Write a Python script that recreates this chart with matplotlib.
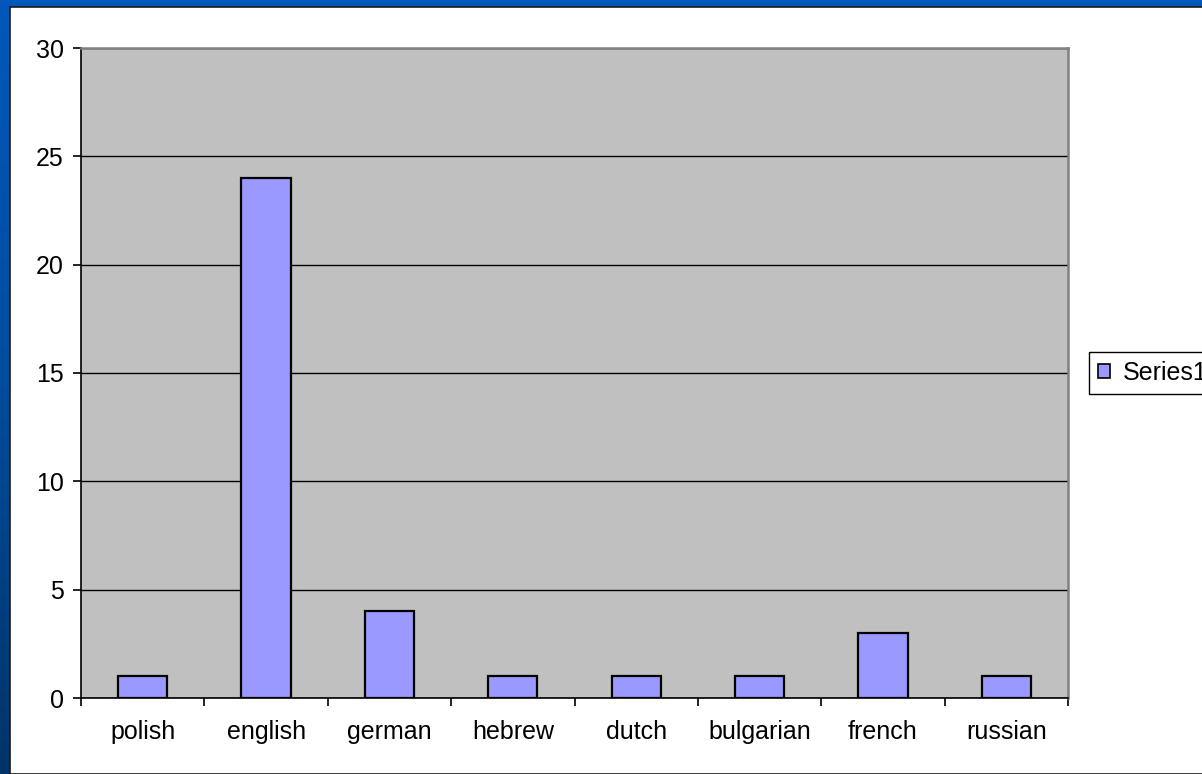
import matplotlib
matplotlib.use("Agg")
import matplotlib.pyplot as plt
import numpy as np
from matplotlib.patches import Rectangle
from matplotlib.colors import LinearSegmentedColormap

categories = ["polish", "english", "german", "hebrew", "dutch", "bulgarian", "french", "russian"]
values = [1, 24, 4, 1, 1, 1, 3, 1]
series_name = "Series1"
y_ticks = [0, 5, 10, 15, 20, 25, 30]

plt.rcParams['font.family'] = ['Liberation Sans', 'DejaVu Sans']

W, H = 1202, 774
fig = plt.figure(figsize=(W / 100, H / 100), dpi=100)

# slide background gradient
bg = fig.add_axes([0, 0, 1, 1], zorder=-10)
cmap = LinearSegmentedColormap.from_list("slide", ["#0058bb", "#004c9e", "#003468"])
grad = np.linspace(0, 1, 256).reshape(-1, 1)
bg.imshow(grad, aspect="auto", cmap=cmap, extent=[0, 1, 0, 1], origin="upper")
bg.set_axis_off()

# white chart area
chart_left, chart_top = 9.5, 6.5
fig.patches.append(Rectangle((chart_left / W, 0), 1.2, 1 - chart_top / H,
                             transform=fig.transFigure, facecolor="white",
                             edgecolor="#1a1a1a", linewidth=1.2, zorder=-5))

# plot area
px_l, px_r, px_t, px_b = 81, 1068, 48, 698
ax = fig.add_axes([px_l / W, 1 - px_b / H, (px_r - px_l) / W, (px_b - px_t) / H])
ax.set_facecolor("#c0c0c0")

x = np.arange(len(categories))
bars = ax.bar(x, values, width=0.4, color="#9999ff", edgecolor="black",
              linewidth=1.6, zorder=3, label=series_name)

ax.set_xlim(-0.5, len(categories) - 0.5)
ax.set_ylim(0, 30)
ax.set_yticks(y_ticks)
ax.yaxis.grid(True, color="black", linewidth=1.0, zorder=1)
ax.set_axisbelow(True)

ax.set_xticks(x)
ax.set_xticklabels(categories, fontsize=18)
ax.set_xticks(np.arange(-0.5, len(categories)), minor=True)
ax.tick_params(axis="x", which="major", length=0, pad=16)
ax.tick_params(axis="x", which="minor", length=6, width=1.2, direction="out", color="black")
ax.tick_params(axis="y", which="major", length=5.5, width=1.2, direction="out",
               labelsize=18, pad=7, color="black")

for s in ["left", "bottom"]:
    ax.spines[s].set_color("black")
    ax.spines[s].set_linewidth(1.2)
for s in ["top", "right"]:
    ax.spines[s].set_color("#808080")
    ax.spines[s].set_linewidth(1.8)

handle = Rectangle((0, 0), 1, 1, facecolor="#9999ff", edgecolor="black", linewidth=1.2)
leg = fig.legend([handle], [series_name], loc="center left",
                 bbox_to_anchor=(1089 / W, 1 - 373 / H), bbox_transform=fig.transFigure,
                 fontsize=18, frameon=True, fancybox=False, framealpha=1,
                 edgecolor="black", handlelength=0.5, handleheight=0.5,
                 handletextpad=0.5, borderpad=0.35, borderaxespad=0)
leg.get_frame().set_linewidth(1.0)

fig.savefig("out.png", dpi=100)
